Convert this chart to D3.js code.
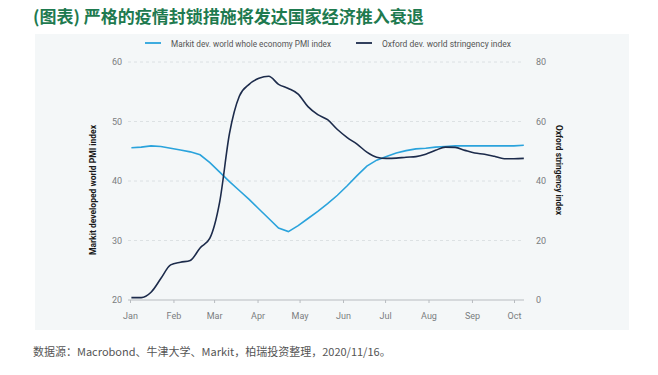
<!DOCTYPE html>
<html>
<head>
<meta charset="utf-8">
<script src="https://cdn.jsdelivr.net/npm/d3@7"></script>
<style>
  body { margin: 0; background: #fff; }
  svg { display: block; }
</style>
</head>
<body>
<svg width="658" height="375"></svg>
<script>
// weekly observations, 2020
var dates = ["2020-01-02","2020-01-09","2020-01-16","2020-01-23","2020-01-30",
  "2020-02-06","2020-02-13","2020-02-20","2020-02-27",
  "2020-03-05","2020-03-12","2020-03-19","2020-03-26",
  "2020-04-02","2020-04-09","2020-04-16","2020-04-23","2020-04-30",
  "2020-05-07","2020-05-14","2020-05-21","2020-05-28",
  "2020-06-04","2020-06-11","2020-06-18","2020-06-25",
  "2020-07-02","2020-07-09","2020-07-16","2020-07-23","2020-07-30",
  "2020-08-06","2020-08-13","2020-08-20","2020-08-27",
  "2020-09-03","2020-09-10","2020-09-17","2020-09-24",
  "2020-10-01","2020-10-08"];

var pmi = [45.6,45.7,45.9,45.8,45.5, 45.2,44.9,44.4,43.1,
  41.5,39.9,38.4,36.9, 35.3,33.7,32.1,31.5,32.5,
  33.7,34.9,36.2,37.6, 39.2,40.9,42.5,43.5,
  44.1,44.7,45.1,45.4,45.5, 45.7,45.8,45.9,45.9,
  45.9,45.9,45.9,45.9, 45.9,46.0];

var stringency = [0.8,0.8,2.6,7.2,11.8, 12.7,13.3,17.5,20.8,
  33,56,68.5,72.5, 74.5,75.2,72.5,71.1,69.2,
  65,62.3,60.6,57.3, 54.6,52.4,49.7,48,
  47.6,47.7,48,48.2,49, 50.3,51.4,51.3,50.3,
  49.4,49,48.3,47.5, 47.5,47.6];

var monthTicks = ["2020-01-01","2020-02-01","2020-03-01","2020-04-01","2020-05-01",
  "2020-06-01","2020-07-01","2020-08-01","2020-09-01","2020-10-01"];
var leftTicks = [20, 30, 40, 50, 60];
var rightTicks = [0, 20, 40, 60, 80];

var seriesNames = ["Markit dev. world whole economy PMI index", "Oxford dev. world stringency index"];
var colors = ["#2aa3dc", "#1c2b4b"];

var parse = d3.timeParse("%Y-%m-%d");
var svg = d3.select("svg");
var narrow = "Roboto, 'Liberation Sans', Arial, sans-serif";

// title
svg.append("text")
  .attr("x", 33).attr("y", 23)
  .attr("font-family", "'Noto Sans CJK SC', sans-serif")
  .attr("font-size", 17).attr("font-weight", "bold")
  .attr("fill", "#1e7a4f")
  .text("(图表) 严格的疫情封锁措施将发达国家经济推入衰退");

// panel
svg.append("rect")
  .attr("x", 35).attr("y", 34).attr("width", 594).attr("height", 296)
  .attr("fill", "#f4f7f8");

var x = d3.scaleTime()
  .domain([parse("2020-01-01"), parse("2020-10-01")])
  .range([130, 514]);
var yL = d3.scaleLinear().domain([20, 60]).range([300, 62]);
var yR = d3.scaleLinear().domain([0, 80]).range([300, 62]);

// gridlines
svg.append("g").selectAll("line")
  .data(leftTicks.slice(1))
  .enter().append("line")
  .attr("x1", 128).attr("x2", 524)
  .attr("y1", function(d) { return yL(d); })
  .attr("y2", function(d) { return yL(d); })
  .attr("stroke", "#d6dadd").attr("stroke-width", 0.8)
  .attr("stroke-dasharray", "3,3");

// x axis
var xAxis = svg.append("g")
  .attr("transform", "translate(0,300)")
  .call(d3.axisBottom(x)
    .tickValues(monthTicks.map(parse))
    .tickFormat(d3.timeFormat("%b"))
    .tickSize(3).tickPadding(10));
xAxis.select(".domain").attr("d", "M128,0H524").attr("stroke", "#b8bcc0");
xAxis.selectAll(".tick line").attr("stroke", "#b8bcc0");
xAxis.selectAll("text").attr("fill", "#7a7d80")
  .attr("font-family", narrow).attr("font-size", 9);

// left axis
var lAxis = svg.append("g")
  .attr("transform", "translate(124,0)")
  .call(d3.axisLeft(yL).tickValues(leftTicks).tickSize(0).tickPadding(2));
lAxis.select(".domain").remove();
lAxis.selectAll("text").attr("fill", "#7a7d80")
  .attr("font-family", narrow).attr("font-size", 9);

// right axis
var rAxis = svg.append("g")
  .attr("transform", "translate(534,0)")
  .call(d3.axisRight(yR).tickValues(rightTicks).tickSize(0).tickPadding(2));
rAxis.select(".domain").remove();
rAxis.selectAll("text").attr("fill", "#7a7d80")
  .attr("font-family", narrow).attr("font-size", 9);

// axis titles
svg.append("text")
  .attr("transform", "translate(96,190) rotate(-90)")
  .attr("text-anchor", "middle")
  .attr("font-family", narrow).attr("font-size", 8.5).attr("font-weight", "bold")
  .attr("fill", "#1a1a1a")
  .attr("textLength", 130).attr("lengthAdjust", "spacingAndGlyphs")
  .text("Markit developed world PMI index");
svg.append("text")
  .attr("transform", "translate(556,170) rotate(90)")
  .attr("text-anchor", "middle")
  .attr("font-family", narrow).attr("font-size", 8.5).attr("font-weight", "bold")
  .attr("fill", "#1a1a1a")
  .attr("textLength", 90).attr("lengthAdjust", "spacingAndGlyphs")
  .text("Oxford stringency index");

// lines
var pts = dates.map(function(d, i) {
  return { date: parse(d), pmi: pmi[i], str: stringency[i] };
});
var linePmi = d3.line()
  .x(function(d) { return x(d.date); })
  .y(function(d) { return yL(d.pmi); });
var lineStr = d3.line()
  .x(function(d) { return x(d.date); })
  .y(function(d) { return yR(d.str); })
  .curve(d3.curveMonotoneX);

svg.append("path").datum(pts)
  .attr("d", linePmi)
  .attr("fill", "none").attr("stroke", colors[0]).attr("stroke-width", 1.6);
svg.append("path").datum(pts)
  .attr("d", lineStr)
  .attr("fill", "none").attr("stroke", colors[1]).attr("stroke-width", 1.6);

// legend
var legX = [145, 356];
var legW = [160, 129];
var leg = svg.append("g").selectAll("g")
  .data(seriesNames)
  .enter().append("g")
  .attr("transform", function(d, i) { return "translate(" + legX[i] + ",43)"; });
leg.append("line")
  .attr("x1", 0).attr("x2", 16)
  .attr("stroke", function(d, i) { return colors[i]; })
  .attr("stroke-width", 1.8);
leg.append("text")
  .attr("x", 26).attr("y", 3.5)
  .attr("font-family", narrow).attr("font-size", 9.5)
  .attr("fill", "#555")
  .attr("textLength", function(d, i) { return legW[i]; })
  .attr("lengthAdjust", "spacingAndGlyphs")
  .text(function(d) { return d; });

// source note
svg.append("text")
  .attr("x", 33).attr("y", 356)
  .attr("font-family", "'Noto Sans CJK SC', sans-serif")
  .attr("font-size", 11)
  .attr("fill", "#555")
  .text("数据源：Macrobond、牛津大学、Markit，柏瑞投资整理，2020/11/16。");
</script>
</body>
</html>
